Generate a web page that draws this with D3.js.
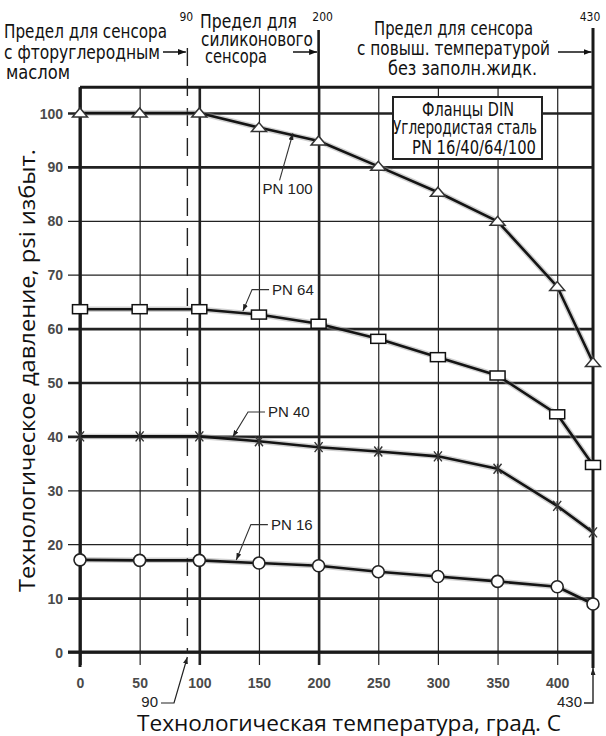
<!DOCTYPE html>
<html>
<head>
<meta charset="utf-8">
<script src="https://cdn.jsdelivr.net/npm/d3@7/dist/d3.min.js"></script>
<style>
  body { margin: 0; background: #fff; }
  svg { display: block; }
  .cond { font-family: 'Liberation Sans Narrow', 'DejaVu Sans Condensed', sans-serif; fill: #111; }
  .tick text { font-family: 'Liberation Sans', Arial, sans-serif; font-size: 14px; font-weight: bold; fill: #4a4a4a; }
  .pn-label { font-family: 'Liberation Sans', Arial, sans-serif; font-size: 15px; fill: #222; }
  .title { font-family: 'Open Sans', 'Noto Sans', sans-serif; font-size: 22px; fill: #111; }
</style>
</head>
<body>
<svg id="chart" width="606" height="736"></svg>
<script>
'use strict'

// Температура, град. C
const temps = [0, 50, 100, 150, 200, 250, 300, 350, 400, 430]

// Давление по классам фланцев
const pn100 = [100, 100, 100, 97.3, 94.8, 90.1, 85.3, 79.9, 67.8, 53.7]
const pn64 = [63.6, 63.6, 63.6, 62.6, 60.9, 58.1, 54.7, 51.3, 44.1, 34.7]
const pn40 = [40, 40, 40, 39.1, 38.0, 37.2, 36.3, 34.0, 27.1, 22.2]
const pn16 = [17.1, 17, 17, 16.5, 16.0, 14.9, 14.0, 13.1, 12.1, 8.9]

const seriesNames = ['PN 100', 'PN 64', 'PN 40', 'PN 16']
const seriesMarkers = ['triangle', 'square', 'cross', 'circle']

// оси
const xTicks = [0, 50, 100, 150, 200, 250, 300, 350, 400]
const xThick = [0, 100, 200]
const yTicks = [0, 10, 20, 30, 40, 50, 60, 70, 80, 90, 100]
const yThick = [0, 10, 40, 50, 60, 90, 100]
const tempMax = 430
const limitFluoro = 90
const limitSilicone = 200

const svg = d3.select('#chart')

const x = d3.scaleLinear().domain([0, tempMax]).range([80, 593])
const y = d3.scaleLinear().domain([0, 100]).range([652, 113])
const yTop = y(104.8)

/**
 * Линейная интерполяция значения серии при заданной температуре
 */
function valueAt (values, t) {
  for (let i = 1; i < temps.length; i++) {
    if (t <= temps[i]) {
      const k = (t - temps[i - 1]) / (temps[i] - temps[i - 1])
      return values[i - 1] + k * (values[i] - values[i - 1])
    }
  }
  return values[values.length - 1]
}

// наконечники стрелок
const defs = svg.append('defs')
defs.append('marker')
  .attr('id', 'arr')
  .attr('viewBox', '0 0 8 6')
  .attr('refX', 8).attr('refY', 3)
  .attr('markerWidth', 8).attr('markerHeight', 6)
  .attr('markerUnits', 'userSpaceOnUse')
  .attr('orient', 'auto')
  .append('path').attr('d', 'M0,0 L8,3 L0,6 Z').attr('fill', '#111')
defs.append('marker')
  .attr('id', 'arr-small')
  .attr('viewBox', '0 0 7 5')
  .attr('refX', 7).attr('refY', 2.5)
  .attr('markerWidth', 7).attr('markerHeight', 5)
  .attr('markerUnits', 'userSpaceOnUse')
  .attr('orient', 'auto')
  .append('path').attr('d', 'M0,0 L7,2.5 L0,5 Z').attr('fill', '#222')

// сетка по Y (с подписями)
const gy = svg.append('g')
  .attr('transform', 'translate(68,0)')
  .call(d3.axisLeft(y).tickValues(yTicks).tickSize(-(x(tempMax) - 68)).tickPadding(5))
gy.select('.domain').remove()
gy.selectAll('.tick line')
  .attr('stroke', '#222')
  .attr('stroke-width', d => yThick.includes(d) ? 2.6 : 1.2)
gy.selectAll('.tick text').attr('dy', '0.36em')

// сетка по X (с подписями)
const gx = svg.append('g')
  .attr('transform', 'translate(0,665)')
  .call(d3.axisBottom(x).tickValues(xTicks).tickSize(-(665 - yTop)).tickPadding(13))
gx.select('.domain').remove()
gx.selectAll('.tick line')
  .attr('stroke', '#222')
  .attr('stroke-width', d => xThick.includes(d) ? 2.6 : 1.2)

// рамка
svg.append('line')
  .attr('x1', x(0)).attr('x2', x(tempMax))
  .attr('y1', yTop).attr('y2', yTop)
  .attr('stroke', '#1a1a1a').attr('stroke-width', 3)
svg.append('line')
  .attr('x1', 68).attr('x2', x(tempMax))
  .attr('y1', y(0)).attr('y2', y(0))
  .attr('stroke', '#1a1a1a').attr('stroke-width', 3)
svg.append('line')
  .attr('x1', x(0)).attr('x2', x(0))
  .attr('y1', yTop).attr('y2', 667)
  .attr('stroke', '#1a1a1a').attr('stroke-width', 3)
svg.append('line')
  .attr('x1', x(tempMax)).attr('x2', x(tempMax))
  .attr('y1', 28).attr('y2', 668)
  .attr('stroke', '#1a1a1a').attr('stroke-width', 3)
svg.append('line')
  .attr('x1', x(limitSilicone)).attr('x2', x(limitSilicone))
  .attr('y1', 30).attr('y2', yTop)
  .attr('stroke', '#1a1a1a').attr('stroke-width', 2.6)

// предел 90 град. - штриховая
svg.append('line')
  .attr('x1', x(limitFluoro)).attr('x2', x(limitFluoro))
  .attr('y1', 48).attr('y2', y(0))
  .attr('stroke', '#222').attr('stroke-width', 1.4)
  .attr('stroke-dasharray', '18,12')

// легенда
const lg = svg.append('g')
lg.append('rect')
  .attr('x', 393).attr('y', 97).attr('width', 149).attr('height', 62)
  .attr('fill', '#fff').attr('stroke', '#222').attr('stroke-width', 2)
const legendLines = [
  { t: 'Фланцы DIN', cx: 468, by: 116, w: 92 },
  { t: 'Углеродистая сталь', cx: 465, by: 134, w: 144 },
  { t: 'PN 16/40/64/100', cx: 474, by: 154, w: 124 }
]
legendLines.forEach(l => {
  lg.append('text')
    .attr('class', 'cond')
    .attr('x', l.cx).attr('y', l.by)
    .attr('text-anchor', 'middle')
    .attr('font-size', 19)
    .attr('textLength', l.w).attr('lengthAdjust', 'spacingAndGlyphs')
    .text(l.t)
})

// линии серий
const allSeries = [pn100, pn64, pn40, pn16]
const line = d3.line()
  .x((d, i) => x(temps[i]))
  .y(d => y(d))

const gs = svg.append('g')
allSeries.forEach(vals => {
  gs.append('path')
    .datum(vals)
    .attr('d', line)
    .attr('fill', 'none')
    .attr('stroke', '#9a9a9a').attr('stroke-opacity', 0.45)
    .attr('stroke-width', 5.5)
  gs.append('path')
    .datum(vals)
    .attr('d', line)
    .attr('fill', 'none')
    .attr('stroke', '#141414')
    .attr('stroke-width', 2.6)
    .attr('stroke-linejoin', 'round')
})

/**
 * Рисует маркеры серии
 */
function drawMarkers (vals, kind) {
  const g = svg.append('g')
  vals.forEach((v, i) => {
    const cx = x(temps[i])
    const cy = y(v)
    if (kind === 'triangle') {
      g.append('path')
        .attr('d', `M${cx - 7.5},${cy + 4} L${cx + 7.5},${cy + 4} L${cx},${cy - 5} Z`)
        .attr('fill', '#fff').attr('stroke', '#333').attr('stroke-width', 1.5)
    } else if (kind === 'square') {
      g.append('rect')
        .attr('x', cx - 7.5).attr('y', cy - 4.5)
        .attr('width', 15).attr('height', 9)
        .attr('fill', '#fff').attr('stroke', '#111').attr('stroke-width', 1.5)
    } else if (kind === 'circle') {
      g.append('circle')
        .attr('cx', cx).attr('cy', cy).attr('r', 6)
        .attr('fill', '#fff').attr('stroke', '#222').attr('stroke-width', 1.6)
    } else {
      g.append('path')
        .attr('d', `M${cx - 4},${cy - 5} L${cx + 4},${cy + 5} M${cx + 4},${cy - 5} L${cx - 4},${cy + 5} M${cx},${cy - 5} L${cx},${cy + 5}`)
        .attr('stroke', '#333').attr('stroke-width', 1.4)
    }
  })
}
allSeries.forEach((vals, i) => drawMarkers(vals, seriesMarkers[i]))

// подписи серий со стрелками (положение в единицах осей)
const seriesNotes = [
  { text: [153, 84.9], tip: 178.5, knee: false },
  { text: [161, 66.3], tip: 136.5, knee: true },
  { text: [157.6, 43.6], tip: 128, knee: true },
  { text: [160, 22.7], tip: 131, knee: true }
]
seriesNotes.forEach((n, i) => {
  const tx = x(n.text[0])
  const ty = y(n.text[1])
  const px = x(n.tip)
  const py = y(valueAt(allSeries[i], n.tip)) - 2
  const pts = n.knee
    ? [[tx - 3, ty - 5], [tx - 20, ty - 5], [px, py]]
    : [[tx + 17, ty - 14], [px, py]]
  svg.append('path')
    .attr('d', d3.line()(pts))
    .attr('fill', 'none')
    .attr('stroke', '#333').attr('stroke-width', 1.1)
    .attr('marker-end', 'url(#arr-small)')
  svg.append('text')
    .attr('class', 'pn-label')
    .attr('x', tx).attr('y', ty)
    .text(seriesNames[i])
})

// верхние пояснения
const topNotes = [
  { t: 'Предел для сенсора', x: 4, by: 38, w: 163 },
  { t: 'с фторуглеродным', x: 4, by: 59, w: 156 },
  { t: 'маслом', x: 6, by: 79, w: 64 },
  { t: 'Предел для', x: 200, by: 28, w: 97 },
  { t: 'силиконового', x: 201, by: 46, w: 112 },
  { t: 'сенсора', x: 205, by: 63, w: 62 },
  { t: 'Предел для сенсора', x: 374, by: 35, w: 159 },
  { t: 'с повыш. температурой', x: 357, by: 55, w: 193 },
  { t: 'без заполн.жидк.', x: 388, by: 75, w: 149 }
]
topNotes.forEach(n => {
  svg.append('text')
    .attr('class', 'cond')
    .attr('x', n.x).attr('y', n.by)
    .attr('font-size', 20)
    .attr('textLength', n.w).attr('lengthAdjust', 'spacingAndGlyphs')
    .text(n.t)
})

const limitArrows = [
  { from: 163, to: limitFluoro },
  { from: 293, to: limitSilicone },
  { from: 558, to: tempMax }
]
limitArrows.forEach(a => {
  svg.append('line')
    .attr('x1', a.from).attr('x2', x(a.to) - 1.5)
    .attr('y1', 52).attr('y2', 52)
    .attr('stroke', '#111').attr('stroke-width', 1.5)
    .attr('marker-end', 'url(#arr)')
})

// малые подписи пределов сверху
const topLimitLabels = [
  { v: limitFluoro, dx: -1 },
  { v: limitSilicone, dx: 4 },
  { v: tempMax, dx: -3 }
]
topLimitLabels.forEach(l => {
  svg.append('text')
    .attr('class', 'cond')
    .attr('x', x(l.v) + l.dx).attr('y', 21)
    .attr('text-anchor', 'middle')
    .attr('font-size', 12)
    .attr('fill', '#333')
    .text(l.v)
})

// нижние выноски 90 и 430
svg.append('text')
  .attr('class', 'pn-label')
  .attr('x', 158).attr('y', 707)
  .attr('text-anchor', 'end')
  .attr('font-size', 14)
  .attr('fill', '#444')
  .text(limitFluoro)
svg.append('path')
  .attr('d', d3.line()([[161, 703], [174, 703], [x(limitFluoro), 657]]))
  .attr('fill', 'none').attr('stroke', '#222').attr('stroke-width', 1.2)
  .attr('marker-end', 'url(#arr-small)')
svg.append('text')
  .attr('class', 'pn-label')
  .attr('x', 582).attr('y', 707)
  .attr('text-anchor', 'end')
  .attr('font-size', 14)
  .attr('fill', '#444')
  .text(tempMax)
svg.append('path')
  .attr('d', d3.line()([[584, 703], [x(tempMax), 703], [x(tempMax), 668]]))
  .attr('fill', 'none').attr('stroke', '#222').attr('stroke-width', 1.4)
  .attr('marker-end', 'url(#arr-small)')

// названия осей
svg.append('text')
  .attr('class', 'title')
  .attr('transform', 'translate(35,' + ((yTop + y(0)) / 2 + 1) + ') rotate(-90)')
  .attr('text-anchor', 'middle')
  .attr('textLength', 443).attr('lengthAdjust', 'spacingAndGlyphs')
  .text('Технологическое давление, psi избыт.')
svg.append('text')
  .attr('class', 'title')
  .attr('x', 349).attr('y', 731)
  .attr('text-anchor', 'middle')
  .attr('textLength', 424).attr('lengthAdjust', 'spacingAndGlyphs')
  .text('Технологическая температура, град. С')
</script>
</body>
</html>
